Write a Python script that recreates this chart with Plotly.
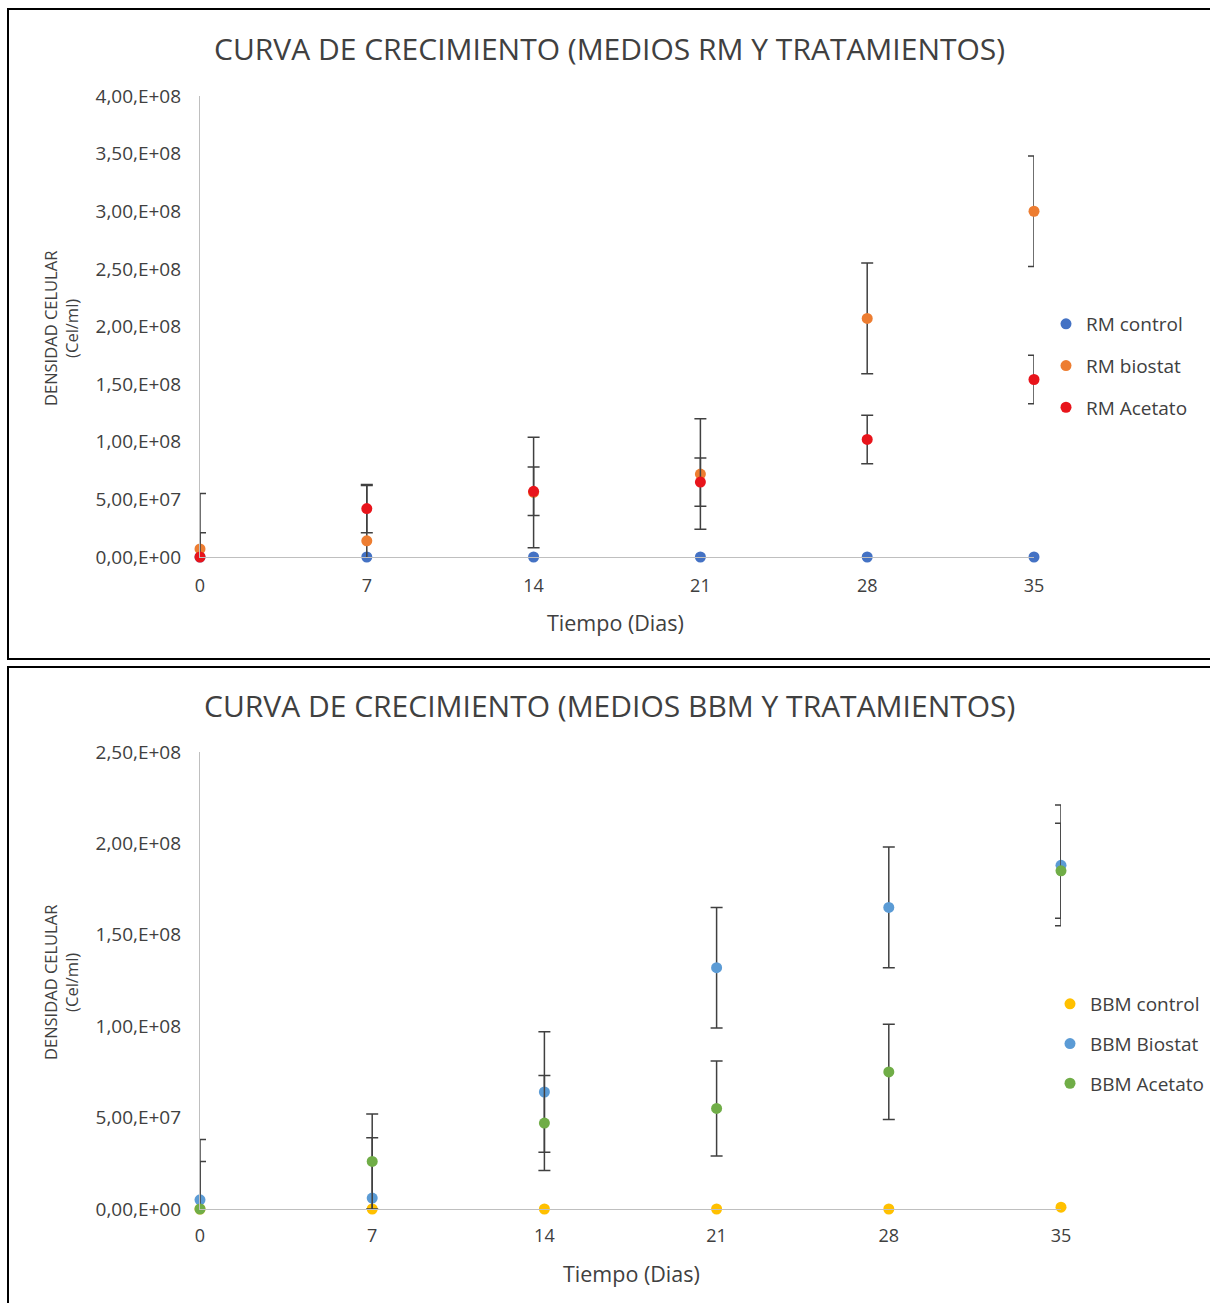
import plotly.graph_objects as go

# Sampling days
dias = [0, 7, 14, 21, 28, 35]

# RM medium series (cells/ml)
rm_control = [0, 0, 0, 0, 0, 0]
rm_biostat = [7e6, 1.4e7, 5.6e7, 7.2e7, 2.07e8, 3.0e8]
rm_biostat_err = [4.8e7] * 6
rm_acetato = [0, 4.2e7, 5.7e7, 6.5e7, 1.02e8, 1.54e8]
rm_acetato_err = [2.1e7] * 6

# BBM medium series (cells/ml)
bbm_control = [0, 0, 0, 0, 0, 1e6]
bbm_biostat = [5e6, 6e6, 6.4e7, 1.32e8, 1.65e8, 1.88e8]
bbm_biostat_err = [3.3e7] * 6
bbm_acetato = [0, 2.6e7, 4.7e7, 5.5e7, 7.5e7, 1.85e8]
bbm_acetato_err = [2.6e7] * 6

# Tick labels
rm_ticks = [0, 5e7, 1e8, 1.5e8, 2e8, 2.5e8, 3e8, 3.5e8, 4e8]
rm_ticktext = ["0,00,E+00", "5,00,E+07", "1,00,E+08", "1,50,E+08", "2,00,E+08",
               "2,50,E+08", "3,00,E+08", "3,50,E+08", "4,00,E+08"]
bbm_ticks = [0, 5e7, 1e8, 1.5e8, 2e8, 2.5e8]
bbm_ticktext = ["0,00,E+00", "5,00,E+07", "1,00,E+08", "1,50,E+08", "2,00,E+08", "2,50,E+08"]

W, H = 1210, 1303
FONT = "Open Sans"
TXT = "#404040"
AXIS = "#BFBFBF"
ERRC = "#404040"


def px_x(p):
    return p / W


def px_y(p):
    return 1 - p / H


fig = go.Figure()


def add_series(x, y, name, color, xa, ya, legend, err=None):
    kw = {}
    if err is not None:
        kw["error_y"] = dict(type="data", array=err, visible=True,
                             color=ERRC, thickness=1.5, width=6)
    fig.add_trace(go.Scatter(
        x=x, y=y, name=name, mode="markers", xaxis=xa, yaxis=ya,
        marker=dict(color=color, size=11),
        legend=legend, legendgroup=name, cliponaxis=False, **kw))


add_series(dias, rm_control, "RM control", "#4472C4", "x", "y", "legend")
add_series(dias, rm_biostat, "RM biostat", "#ED7D31", "x", "y", "legend", rm_biostat_err)
add_series(dias, rm_acetato, "RM Acetato", "#E8141B", "x", "y", "legend", rm_acetato_err)

add_series(dias, bbm_control, "BBM control", "#FFC000", "x2", "y2", "legend2")
add_series(dias, bbm_biostat, "BBM Biostat", "#5B9BD5", "x2", "y2", "legend2", bbm_biostat_err)
add_series(dias, bbm_acetato, "BBM Acetato", "#70AD47", "x2", "y2", "legend2", bbm_acetato_err)

xcommon = dict(tickvals=dias, ticktext=[str(d) for d in dias], showgrid=False,
               zeroline=False, showline=True, linecolor=AXIS, linewidth=1.2,
               ticks="", tickfont=dict(family=FONT, size=18, color=TXT))
ycommon = dict(showgrid=False, zeroline=False, showline=True, linecolor=AXIS,
               linewidth=1.2, ticks="", tickfont=dict(family=FONT, size=19, color=TXT),
               ticklabelstandoff=14)

fig.update_layout(
    width=W, height=H,
    margin=dict(l=0, r=0, t=0, b=0, pad=0, autoexpand=False),
    paper_bgcolor="white", plot_bgcolor="white",
    font=dict(family=FONT, color=TXT),
    xaxis=dict(domain=[px_x(200), px_x(1034)], range=[0, 35], anchor="y",
               ticklabelstandoff=12, **xcommon),
    yaxis=dict(domain=[px_y(557), px_y(96)], range=[0, 4e8], anchor="x",
               tickvals=rm_ticks, ticktext=rm_ticktext, **ycommon),
    xaxis2=dict(domain=[px_x(200), px_x(1061)], range=[0, 35], anchor="y2",
                ticklabelstandoff=10, **xcommon),
    yaxis2=dict(domain=[px_y(1209), px_y(752)], range=[0, 2.5e8], anchor="x2",
                tickvals=bbm_ticks, ticktext=bbm_ticktext, **ycommon),
    legend=dict(x=px_x(1046), y=px_y(305), xanchor="left", yanchor="top",
                font=dict(family=FONT, size=19, color=TXT), tracegroupgap=14,
                traceorder="grouped", itemwidth=30, bgcolor="rgba(0,0,0,0)"),
    legend2=dict(x=px_x(1050), y=px_y(985), xanchor="left", yanchor="top",
                 font=dict(family=FONT, size=19, color=TXT), tracegroupgap=12,
                 traceorder="grouped", itemwidth=30, bgcolor="rgba(0,0,0,0)"),
    showlegend=True,
)

# Chart frames
fig.add_shape(type="rect", xref="paper", yref="paper",
              x0=px_x(8), x1=px_x(1214), y0=px_y(659), y1=px_y(9),
              line=dict(color="black", width=2))
fig.add_shape(type="rect", xref="paper", yref="paper",
              x0=px_x(8), x1=px_x(1214), y0=px_y(1308), y1=px_y(667),
              line=dict(color="black", width=2))

annotations = [
    dict(text="CURVA DE CRECIMIENTO (MEDIOS RM Y TRATAMIENTOS)", x=px_x(609), y=px_y(48),
         font=dict(size=30, color=TXT)),
    dict(text="CURVA DE CRECIMIENTO (MEDIOS BBM Y TRATAMIENTOS)", x=px_x(609), y=px_y(705),
         font=dict(size=30, color=TXT)),
    dict(text="Tiempo (Dias)", x=px_x(616), y=px_y(623), font=dict(size=21.5, color=TXT)),
    dict(text="Tiempo (Dias)", x=px_x(631), y=px_y(1273), font=dict(size=21.5, color=TXT)),
    dict(text="DENSIDAD CELULAR<br>(Cel/ml)", x=px_x(61), y=px_y(329), textangle=-90,
         font=dict(size=16.5, color=TXT)),
    dict(text="DENSIDAD CELULAR<br>(Cel/ml)", x=px_x(61), y=px_y(983), textangle=-90,
         font=dict(size=16.5, color=TXT)),
]
for a in annotations:
    fig.add_annotation(xref="paper", yref="paper", showarrow=False,
                       xanchor="center", yanchor="middle", **a)

fig.write_html("out.html")
